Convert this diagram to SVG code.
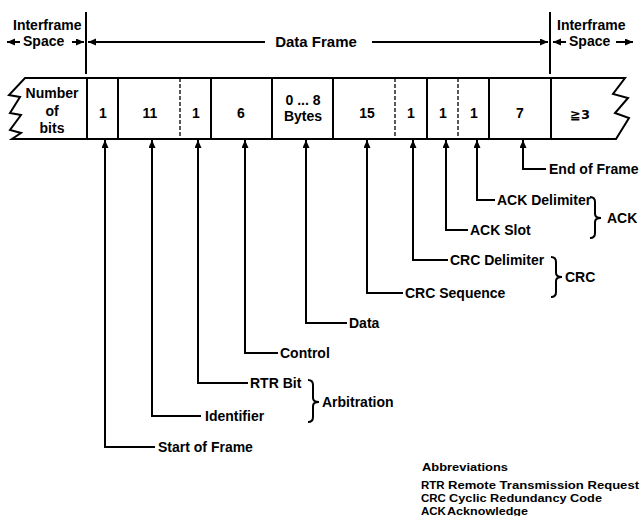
<svg xmlns="http://www.w3.org/2000/svg" width="641" height="516" viewBox="0 0 641 516">
<defs>
<marker id="ah" markerUnits="userSpaceOnUse" markerWidth="9" markerHeight="8" refX="8" refY="3.5" orient="auto">
<path d="M0,0 L8,3.5 L0,7 z" fill="#000"/>
</marker>
<style>
text{font-family:"Liberation Sans",Arial,"DejaVu Sans",sans-serif;font-weight:bold;font-size:14px;fill:#000}
.c{text-anchor:middle}
.ln{fill:none;stroke:#000;stroke-width:2}
.arr{fill:none;stroke:#000;stroke-width:2;marker-end:url(#ah)}
.thin{fill:none;stroke:#000;stroke-width:2}
.dash{fill:none;stroke:#000;stroke-width:1.3;stroke-dasharray:4 2}
.abbr{font-size:11.5px}
</style>
</defs>
<rect width="641" height="516" fill="#fff"/>

<g id="header">
<line class="ln" x1="86" y1="12" x2="86" y2="74"/>
<line class="ln" x1="550" y1="12" x2="550" y2="74"/>
<text x="13" y="30">Interframe</text>
<text x="23" y="46">Space</text>
<text x="557" y="30">Interframe</text>
<text x="569" y="46">Space</text>
<text class="c" x="316" y="47" style="font-size:15px">Data Frame</text>
</g>

<g id="frame">
<path class="ln" d="M25,78 H625 L613,94 L628,98 L615,113 L629,118 L616,139 H12 L21,133 L10,130 L21,115 L10,113 L20,97 L9,95 Z" style="fill:#fff"/>
<line class="ln" x1="87" y1="78" x2="87" y2="139"/>
<line class="ln" x1="118" y1="78" x2="118" y2="139"/>
<line class="dash" x1="180" y1="78" x2="180" y2="139"/>
<line class="ln" x1="211" y1="78" x2="211" y2="139"/>
<line class="ln" x1="272" y1="78" x2="272" y2="139"/>
<line class="ln" x1="333" y1="78" x2="333" y2="139"/>
<line class="dash" x1="395" y1="78" x2="395" y2="139"/>
<line class="ln" x1="427" y1="78" x2="427" y2="139"/>
<line class="dash" x1="458" y1="78" x2="458" y2="139"/>
<line class="ln" x1="489" y1="78" x2="489" y2="139"/>
<line class="ln" x1="551" y1="78" x2="551" y2="139"/>
</g>

<g id="cell-bits"><text class="c" x="52" y="98">Number</text><text class="c" x="52" y="116">of</text><text class="c" x="52" y="133">bits</text></g>
<g id="cell-sof"><text class="c" x="103" y="118">1</text></g>
<g id="cell-id"><text class="c" x="150" y="118">11</text></g>
<g id="cell-rtr"><text class="c" x="196" y="118">1</text></g>
<g id="cell-ctrl"><text class="c" x="241" y="118">6</text></g>
<g id="cell-data"><text class="c" x="303" y="105">0 ... 8</text><text class="c" x="303" y="121">Bytes</text></g>
<g id="cell-crcseq"><text class="c" x="367" y="118">15</text></g>
<g id="cell-crcdel"><text class="c" x="411" y="118">1</text></g>
<g id="cell-ackslot"><text class="c" x="443" y="118">1</text></g>
<g id="cell-ackdel"><text class="c" x="474" y="118">1</text></g>
<g id="cell-eof"><text class="c" x="520" y="118">7</text></g>
<g id="cell-ifs"><text class="c" x="580" y="119" style="font-family:'DejaVu Sans',sans-serif;font-size:13px">≧3</text></g>

<g id="label-eof"><text x="549" y="174">End of Frame</text></g>
<g id="label-ackdel"><text x="497" y="205">ACK Delimiter</text></g>
<g id="label-ackslot"><text x="470" y="235">ACK Slot</text></g>
<g id="label-crcdel"><text x="450" y="265">CRC Delimiter</text></g>
<g id="label-crcseq"><text x="405" y="298">CRC Sequence</text></g>
<g id="label-data"><text x="349" y="328">Data</text></g>
<g id="label-ctrl"><text x="280" y="358">Control</text></g>
<g id="label-rtr"><text x="250" y="388">RTR Bit</text></g>
<g id="label-id"><text x="205" y="421">Identifier</text></g>
<g id="label-sof"><text x="158" y="452">Start of Frame</text></g>

<g id="group-ack"><path class="thin" d="M590,197 Q595,197 595,202 L595,214 Q595,218 601,218 Q595,218 595,222 L595,233 Q595,238 590,238"/><text x="607" y="223">ACK</text></g>
<g id="group-crc"><path class="thin" d="M551,257 Q556,257 556,262 L556,273 Q556,277 562,277 Q556,277 556,281 L556,292 Q556,297 551,297"/><text x="565" y="282">CRC</text></g>
<g id="group-arb"><path class="thin" d="M308,380 Q313,380 313,385 L313,398 Q313,402 319,402 Q313,402 313,406 L313,417 Q313,422 308,422"/><text x="322" y="407">Arbitration</text></g>

<g id="abbreviations">
<text class="abbr" x="422" y="471" textLength="86" lengthAdjust="spacingAndGlyphs">Abbreviations</text>
<text class="abbr" x="421" y="489">RTR</text><text class="abbr" x="448" y="489" textLength="191" lengthAdjust="spacingAndGlyphs">Remote Transmission Request</text>
<text class="abbr" x="421" y="502">CRC</text><text class="abbr" x="449" y="502" textLength="153" lengthAdjust="spacingAndGlyphs">Cyclic Redundancy Code</text>
<text class="abbr" x="421" y="515">ACK</text><text class="abbr" x="447" y="515" textLength="81" lengthAdjust="spacingAndGlyphs">Acknowledge</text>
</g>

<g id="connectors">
<path class="arr" d="M20,42 H7"/>
<path class="arr" d="M72,42 H84"/>
<path class="arr" d="M265,42 H88"/>
<path class="arr" d="M372,42 H548"/>
<path class="arr" d="M566,42 H553"/>
<path class="arr" d="M616,42 H633"/>
<path class="arr" d="M546,169 H523 V140"/>
<path class="arr" d="M495,200 H477 V140"/>
<path class="arr" d="M468,230 H446 V140"/>
<path class="arr" d="M448,260 H413 V140"/>
<path class="arr" d="M403,293 H367 V140"/>
<path class="arr" d="M347,323 H306 V140"/>
<path class="arr" d="M278,353 H245 V140"/>
<path class="arr" d="M248,383 H198 V140"/>
<path class="arr" d="M201,416 H152 V140"/>
<path class="arr" d="M155,447 H105 V140"/>
</g>
</svg>
